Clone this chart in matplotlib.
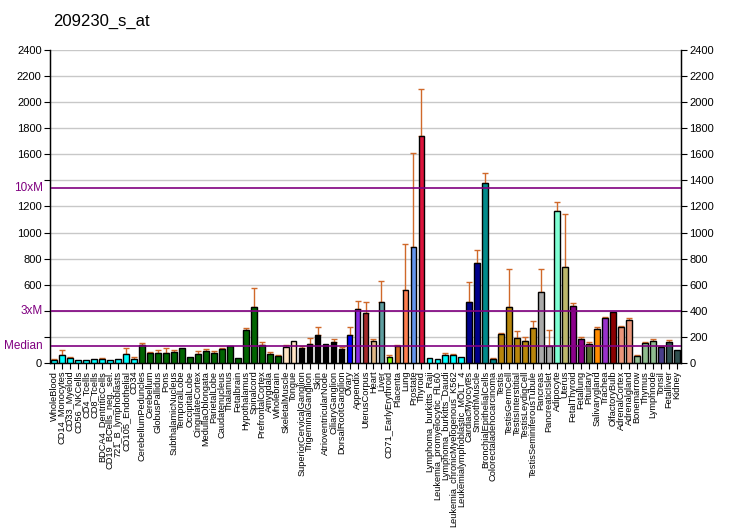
import matplotlib
matplotlib.use('Agg')
import matplotlib.pyplot as plt
import matplotlib.transforms as mtransforms
import numpy as np

plt.rcParams['font.family'] = ['Liberation Sans', 'DejaVu Sans']

# sample names, one per bar
samples = [
    'WholeBlood', 'CD14_Monocytes', 'CD33_Myeloid', 'CD56_NKCells', 'CD4_Tcells',
    'CD8_Tcells', 'BDCA4_DentriticCells', 'CD19_BCells_neg._sel.', '721_B_lymphoblasts',
    'CD105_Endothelial', 'CD34', 'CerebellumPeduncles', 'Cerebellum', 'GlobusPallidus',
    'Pons', 'SubthalamicNucleus', 'TemporalLobe', 'OccipitalLobe', 'CingulateCortex',
    'MedullaOblongata', 'ParietalLobe', 'Caudatenucleus', 'Thalamus', 'Fetalbrain',
    'Hypothalamus', 'Spinalcord', 'PrefrontalCortex', 'Amygdala', 'Wholebrain',
    'SkeletalMuscle', 'Tongue', 'SuperiorCervicalGanglion', 'TrigeminalGanglion', 'Skin',
    'AtrioventricularNode', 'CiliaryGanglion', 'DorsalRootGanglion', 'Ovary', 'Appendix',
    'UterusCorpus', 'Heart', 'Liver', 'CD71_EarlyErythroid', 'Placenta', 'Lung',
    'Prostate', 'Thyroid', 'Lymphoma_burkitts_Raji', 'Leukemia_promyelocytic_HL60',
    'Lymphoma_burkitts_Daudi', 'Leukemia_chronicMyelogenous_K562',
    'Leukemialymphoblastic_MOLT_4', 'CardiacMyocytes', 'SmoothMuscle',
    'BronchialEpithelialCells', 'Colorectaladenocarcinoma', 'Testis', 'TestisGermCell',
    'TestisInterstitial', 'TestisLeydigCell', 'TestisSeminiferousTubule', 'Pancreas',
    'PancreaticIslet', 'Adipocyte', 'Uterus', 'FetalThyroid', 'Fetallung', 'Pituitary',
    'Salivarygland', 'Trachea', 'OlfactoryBulb', 'AdrenalCortex', 'Adrenalgland',
    'Bonemarrow', 'Thymus', 'Lymphnode', 'Tonsil', 'Fetalliver', 'Kidney',
]

values = [
    23, 61, 38, 23, 23, 31, 31, 23, 31, 72, 31,
    138, 79, 77, 77, 87, 115, 46, 69, 95, 79, 110, 130, 38, 256, 429, 138, 72, 54,
    125, 171, 118, 148, 217, 148, 164, 110, 217, 414, 386, 171, 465, 46, 133, 557,
    887, 1738, 41, 31, 64, 64, 49, 465, 767, 1378, 31, 225, 429, 192, 171, 268,
    544, 128, 1163, 736, 436, 185, 146, 262, 346, 392, 277, 331, 54, 156, 169,
    123, 164, 103,
]

errors = [
    8, 39, 11, 0, 0, 0, 7, 0, 0, 43, 15,
    15, 6, 23, 38, 13, 0, 0, 23, 12, 13, 5, 0, 0, 12, 149, 26, 15, 7,
    10, 0, 15, 44, 59, 0, 20, 13, 59, 61, 82, 13, 161, 15, 5, 353,
    721, 361, 0, 0, 13, 5, 0, 154, 97, 77, 7, 8, 289, 56, 28, 54,
    174, 123, 69, 407, 26, 12, 16, 12, 8, 0, 5, 13, 7, 8, 16,
    10, 15, 0,
]

colors = (
    ['#00FFFF'] * 11 + ['#006400'] * 18 + ['#FFE4C4'] * 2 + ['#000000'] * 6 +
    ['#0000FF', '#8A2BE2', '#A52A2A', '#DEB887', '#5F9EA0', '#7FFF00', '#D2691E',
     '#FF7F50', '#6495ED', '#DC143C'] +
    ['#00FFFF'] * 5 + ['#00008B'] * 2 + ['#008B8B'] * 2 + ['#B8860B'] * 5 +
    ['#A9A9A9'] * 2 + ['#7FFFD4', '#BDB76B', '#8B008B', '#8B008B', '#556B2F',
                       '#FF8C00', '#9932CC', '#8B0000'] +
    ['#E9967A'] * 2 + ['#8FBC8F'] * 3 + ['#483D8B'] + ['#2F4F4F'] * 2
)

median = 134
title = '209230_s_at'

fig = plt.figure(figsize=(7.32, 5.30), dpi=100)
ax = fig.add_axes([50 / 732, (530 - 363) / 530, 631 / 732, 313 / 530])

x = np.arange(len(samples))
ax.bar(x, values, width=0.72, color=colors, edgecolor='black', linewidth=1, zorder=3)

# error bars only where there is one
for xi, v, e in zip(x, values, errors):
    if e > 0:
        ax.errorbar(xi, v, yerr=[[0], [e]], fmt='none', ecolor='#D0692A',
                    elinewidth=1, capsize=2.5, capthick=1, zorder=2)

ax.set_xlim(-0.5, len(samples) - 0.5)
ax.set_ylim(0, 2400)

yt = np.arange(0, 2401, 200)
ax.set_yticks(yt)
ax.set_yticklabels(['' if t in (200, 400, 1400) else str(t) for t in yt], fontsize=8)
ax.grid(axis='y', color='#C8C8C8', linewidth=1, zorder=0)
ax.set_axisbelow(True)

# median lines
trans = mtransforms.blended_transform_factory(ax.transAxes, ax.transData)
for m, lab in [(median, 'Median'), (3 * median, '3xM'), (10 * median, '10xM')]:
    ax.axhline(m, color='#800080', linewidth=1.2, zorder=4)
    ax.text(-0.011, m, lab, transform=trans, ha='right', va='center',
            fontsize=8.5, color='#800080')

ax.set_xticks(x)
ax.set_xticklabels(samples, rotation=90, fontsize=6.7)
ax.tick_params(axis='x', length=4, pad=1.5)
ax.tick_params(axis='y', length=4, pad=2)

ax.spines['top'].set_visible(False)
for s in ('left', 'right', 'bottom'):
    ax.spines[s].set_linewidth(1)

ax2 = ax.twinx()
ax2.set_ylim(0, 2400)
ax2.set_yticks(yt)
ax2.set_yticklabels([str(t) for t in yt], fontsize=8)
ax2.tick_params(axis='y', length=4, pad=2)
ax2.spines['top'].set_visible(False)

fig.text(53 / 732, 1 - 21 / 530, title, fontsize=12, ha='left', va='center')

fig.savefig('out.png', dpi=100)
